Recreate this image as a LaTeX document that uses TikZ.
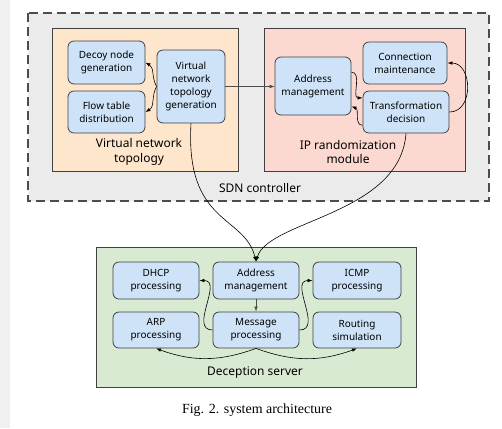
\documentclass[tikz,border=0pt]{standalone}
\usepackage{fontspec}
\setmainfont{Noto Sans}
\newfontfamily\capfont{Liberation Serif}
\usetikzlibrary{arrows.meta}
\tikzset{
  >={Latex[length=5bp,width=3.6bp]},
}
\definecolor{ctrlgray}{HTML}{EBEBEB}
\definecolor{topoorange}{HTML}{FDE6CC}
\definecolor{randpink}{HTML}{FCD9D0}
\definecolor{servgreen}{HTML}{D9EAD3}
\definecolor{blockblue}{HTML}{CEE3F7}
\tikzstyle{module}=[draw=black!75,line width=0.9pt]
\tikzstyle{block}=[draw=black!75,fill=blockblue,line width=0.8pt,rounded corners=6bp,align=center,inner sep=0pt,font=\fontsize{10}{13}\selectfont]
\tikzstyle{label}=[align=center,inner sep=0pt,font=\fontsize{12}{15}\selectfont]
\tikzstyle{link}=[->,line width=0.6pt,black]

\begin{document}
\begin{tikzpicture}[x=1bp,y=-1bp]
    \fill[white] (0,0) rectangle (502,428);
    \fill[black!6] (0,0) rectangle (10,428);

    \draw[draw=black!70,line width=1.3pt,dash pattern=on 9bp off 5bp,fill=ctrlgray] (28,13) rectangle (489,201);
    \node[label] (sdn) at (260,188) {SDN controller};

    \draw[module,fill=topoorange] (52,28) rectangle (238,171);
    \node[label] (topo) at (139,152) {Virtual network\\topology};
    \node[block,minimum width=77bp,minimum height=43bp] (decoy) at (106.5,62.5) {Decoy node\\generation};
    \node[block,minimum width=77bp,minimum height=42bp] (flow) at (106.5,112) {Flow table\\distribution};
    \node[block,minimum width=68bp,minimum height=73bp] (vntg) at (191,86.5) {Virtual\\network\\topology\\generation};

    \draw[module,fill=randpink] (264,28) rectangle (465,171);
    \node[label] (rand) at (348,152) {IP randomization\\module};
    \node[block,minimum width=76bp,minimum height=58bp] (amctl) at (313,86) {Address\\management};
    \node[block,minimum width=84bp,minimum height=42bp] (conn) at (405,63) {Connection\\maintenance};
    \node[block,minimum width=86bp,minimum height=42bp] (trans) at (406,112) {Transformation\\decision};

    \draw[module,fill=servgreen] (96,247) rectangle (416,387);
    \node[label] (serv) at (255,373) {Deception server};
    \node[block,minimum width=86bp,minimum height=37bp] (dhcp) at (156,280.5) {DHCP\\processing};
    \node[block,minimum width=86bp,minimum height=37bp] (amsrv) at (256,280.5) {Address\\management};
    \node[block,minimum width=88bp,minimum height=37bp] (icmp) at (357,280.5) {ICMP\\processing};
    \node[block,minimum width=86bp,minimum height=36bp] (arp) at (156,330) {ARP\\processing};
    \node[block,minimum width=86bp,minimum height=36bp] (msg) at (256,330) {Message\\processing};
    \node[block,minimum width=88bp,minimum height=36bp] (route) at (357,330) {Routing\\simulation};

    \node[inner sep=0pt,font=\capfont\fontsize{14}{16}\selectfont] (cap) at (257,410) {Fig. 2. system architecture};

    \draw[link] (vntg.west) to[out=120,in=-30] (decoy.east);
    \draw[link] (vntg.west) to[out=-120,in=30] (flow.east);
    \draw[link,black!70] (vntg.east) -- (vntg.east -| amctl.west);
    \draw[link] (amctl.20) to[out=0,in=180] (trans.162);
    \draw[link] (trans.197) to[out=180,in=-20] (amctl.-28);
    \draw[link] (trans.east) to[out=0,in=0,looseness=1.3] (conn.east);

    \draw[link] (vntg.south) .. controls (185,225) and (245,215) .. (amsrv.north);
    \draw[link] (trans.south) .. controls (400,215) and (268,220) .. (amsrv.north);

    \draw[link,black!70] (amsrv.south) -- (msg.north);
    \draw[link] (msg.west) to[out=180,in=0,looseness=1.2] (dhcp.east);
    \draw[link] (msg.east) to[out=0,in=180,looseness=1.2] (icmp.west);
    \draw[link] (msg.south) to[out=-160,in=-20] (arp.south);
    \draw[link] (msg.south) to[out=-20,in=-160] (route.south);
  \end{tikzpicture}
\end{document}
